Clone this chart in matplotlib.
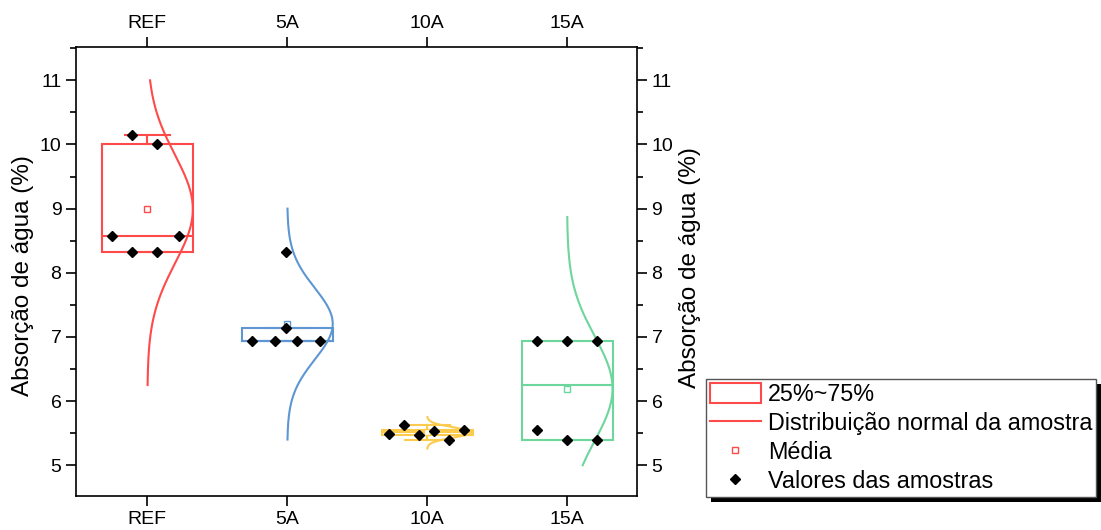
import numpy as np
import matplotlib
matplotlib.use("Agg")
import matplotlib.pyplot as plt
from matplotlib.patches import Rectangle
from matplotlib.lines import Line2D

plt.rcParams['font.family'] = ['Liberation Sans', 'DejaVu Sans']

categories = ["REF", "5A", "10A", "15A"]
colors = ["#FF4A4A", "#5E96D2", "#FBCB4E", "#6DD69C"]
values = {
    "REF": [10.15, 10.00, 8.57, 8.57, 8.33, 8.33],
    "5A": [8.33, 7.14, 6.94, 6.94, 6.94, 6.94],
    "10A": [5.48, 5.62, 5.47, 5.54, 5.40, 5.55],
    "15A": [6.94, 6.94, 6.94, 5.55, 5.40, 5.40],
}
# horizontal jitter of sample points (layout)
jitter = {
    "REF": [-0.107, 0.071, -0.25, 0.229, -0.107, 0.071],
    "5A": [-0.007, -0.007, -0.25, -0.086, 0.071, 0.236],
    "10A": [-0.271, -0.164, -0.057, 0.05, 0.157, 0.264],
    "15A": [-0.214, 0.0, 0.214, -0.214, 0.0, 0.214],
}
# vertical extent of the drawn normal curves
curve_range = {
    "REF": (6.25, 11.0),
    "5A": (5.4, 9.0),
    "10A": (5.26, 5.75),
    "15A": (5.0, 8.87),
}
ylabel = "Absorção de água (%)"

fig = plt.figure(figsize=(11.01, 5.30), dpi=100)
ax = fig.add_axes([76 / 1101, 34 / 530, (637 - 76) / 1101, (496 - 47) / 530])

half_w = 0.325
cap_w = 0.16


def hinges(v):
    s = np.sort(v)
    n = len(s)
    lower = s[: (n + 1) // 2]
    upper = s[n // 2:]
    return np.median(lower), np.median(s), np.median(upper)


for i, cat in enumerate(categories):
    x0 = i + 1
    c = colors[i]
    v = np.array(values[cat])
    q1, med, q3 = hinges(v)
    iqr = q3 - q1
    lo_w = v[v >= q1 - 1.5 * iqr].min()
    hi_w = v[v <= q3 + 1.5 * iqr].max()
    ax.add_patch(Rectangle((x0 - half_w, q1), 2 * half_w, q3 - q1,
                           fill=False, edgecolor=c, lw=1.5, zorder=2))
    ax.plot([x0 - half_w, x0 + half_w], [med, med], color=c, lw=1.5, zorder=2)
    ax.plot([x0, x0], [q3, hi_w], color=c, lw=1.5, zorder=2)
    ax.plot([x0, x0], [lo_w, q1], color=c, lw=1.5, zorder=2)
    ax.plot([x0 - cap_w, x0 + cap_w], [hi_w, hi_w], color=c, lw=1.5, zorder=2)
    ax.plot([x0 - cap_w, x0 + cap_w], [lo_w, lo_w], color=c, lw=1.5, zorder=2)
    mean = v.mean()
    ax.plot([x0], [mean], marker='s', ms=5, mfc='white', mec=c, mew=1.0,
            ls='none', zorder=3)
    sd = v.std(ddof=1)
    yy = np.linspace(curve_range[cat][0], curve_range[cat][1], 300)
    xx = x0 + half_w * np.exp(-0.5 * ((yy - mean) / sd) ** 2)
    ax.plot(xx, yy, color=c, lw=1.5, zorder=2)
    ax.plot(x0 + np.array(jitter[cat]), v, marker='D', ms=5.5, color='black',
            ls='none', zorder=4)

ax.set_xlim(0.49, 4.5)
ax.set_ylim(4.52, 11.52)
ax.set_xticks(range(1, len(categories) + 1))
ax.set_xticklabels(categories)
ax.set_yticks([5, 6, 7, 8, 9, 10, 11])
ax.set_yticks(np.arange(5.5, 11.6, 1.0), minor=True)
ax.tick_params(axis='both', which='major', direction='out', length=7, width=1.2,
               labelsize=14, top=True, right=True, labeltop=True, labelright=True)
ax.tick_params(axis='y', which='minor', direction='out', length=4, width=1.2,
               left=True, right=True)
ax.tick_params(axis='x', which='minor', bottom=False, top=False)
for sp in ax.spines.values():
    sp.set_linewidth(1.2)
ax.set_ylabel(ylabel, fontsize=17.5)
ax.yaxis.set_label_coords(-42 / 561, 0.49)
fig.text(690 / 1101, 1 - 268 / 530, ylabel, rotation=90, fontsize=17.5,
         ha='center', va='center')

handles = [
    Rectangle((0, 0), 1, 1, fill=False, edgecolor=colors[0], lw=1.5),
    Line2D([], [], color=colors[0], lw=1.5),
    Line2D([], [], marker='s', ms=5, mfc='white', mec=colors[0], ls='none'),
    Line2D([], [], marker='D', ms=5.5, color='black', ls='none'),
]
labels = ["25%~75%", "Distribuição normal da amostra", "Média", "Valores das amostras"]
leg = fig.legend(handles, labels, loc='upper left',
                 bbox_to_anchor=(706 / 1101, 1 - 379 / 530),
                 bbox_transform=fig.transFigure, fontsize=16.8, frameon=True,
                 fancybox=False, edgecolor='#555555', framealpha=1,
                 borderpad=0.15, labelspacing=0.24, handlelength=2.2,
                 handleheight=1.0, handletextpad=0.3, borderaxespad=0)
leg.get_frame().set_linewidth(1.0)
fig.canvas.draw()
bb = leg.get_window_extent().transformed(fig.transFigure.inverted())
fig.add_artist(Rectangle((bb.x0 + 5 / 1101, bb.y0 - 5 / 530), bb.width, bb.height,
                         transform=fig.transFigure, facecolor='black',
                         edgecolor='none', zorder=4))
leg.set_zorder(5)

fig.savefig("out.png", dpi=100)
